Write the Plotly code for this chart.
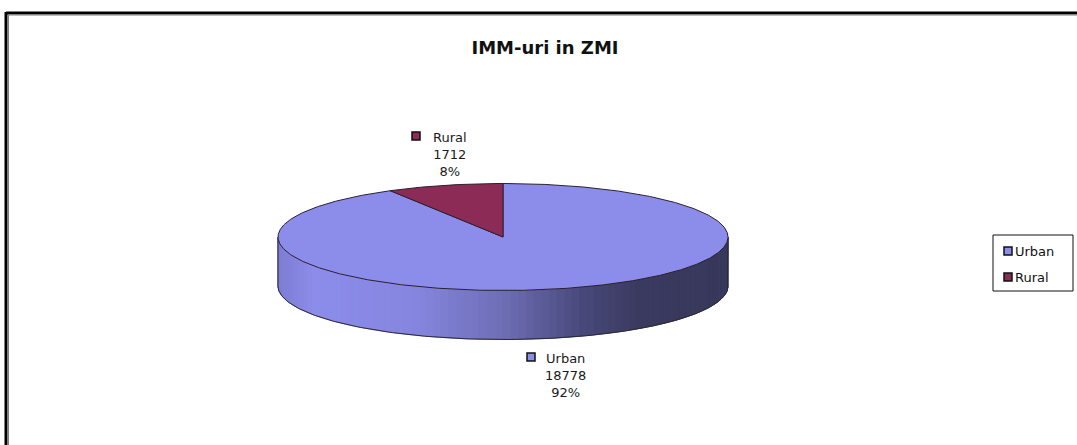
import numpy as np
import plotly.graph_objects as go

# ---- data ----
categories = ["Urban", "Rural"]
values = [18778, 1712]
title_text = "IMM-uri in ZMI"

# ---- style ----
W, H = 1077, 445
top_colors = ["#8c8ceb", "#8c2c56"]
CX, CY, RX, RY, DEPTH = 503, 237, 225, 53.5, 49
FONT = "DejaVu Sans, Arial, sans-serif"
label_pos = {"Urban": (565, 375), "Rural": (450, 154)}
LEG_BOX = (993, 235, 1073, 291)
LEG_ROWS = [251, 277]

total = float(sum(values))
fracs = [v / total for v in values]

fig = go.Figure()


def ell(phi_deg, dy=0.0):
    p = np.radians(phi_deg)
    return CX + RX * np.sin(p), CY - RY * np.cos(p) + dy


# ---- side wall (front half), gradient strips ----
stops = [(0.0, (124, 124, 210)), (0.08, (140, 140, 234)), (0.3, (134, 134, 224)),
         (0.5, (110, 110, 182)), (0.68, (72, 72, 122)), (0.8, (58, 58, 96)),
         (1.0, (56, 56, 92))]


def grad(t):
    for (t0, c0), (t1, c1) in zip(stops[:-1], stops[1:]):
        if t <= t1:
            f = (t - t0) / (t1 - t0)
            return "rgb(%d,%d,%d)" % tuple(int(round(a + (b - a) * f)) for a, b in zip(c0, c1))
    return "rgb(%d,%d,%d)" % stops[-1][1]


N = 90
phis = np.linspace(270, 90, N + 1)  # left -> bottom -> right
for i in range(N):
    ps = np.linspace(phis[i], phis[i + 1], 4)
    xt, yt = ell(ps)
    xb, yb = ell(ps[::-1], DEPTH)
    xs = np.concatenate([xt, xb, xt[:1]])
    ys = np.concatenate([yt, yb, yt[:1]])
    t = ((xt.mean()) - (CX - RX)) / (2 * RX)
    c = grad(min(max(t, 0), 1))
    fig.add_trace(go.Scatter(x=xs, y=ys, mode="lines", fill="toself", fillcolor=c,
                             line=dict(color=c, width=1), hoverinfo="skip", showlegend=False))

# side outline
ps = np.linspace(90, 270, 200)
xb, yb = ell(ps, DEPTH)
lx, ly = ell(np.array([270.0]))
rx_, ry_ = ell(np.array([90.0]))
fig.add_trace(go.Scatter(
    x=np.concatenate([[rx_[0]], xb, [lx[0]]]),
    y=np.concatenate([[ry_[0]], yb, [ly[0]]]),
    mode="lines", line=dict(color="#2a2a3a", width=1), hoverinfo="skip", showlegend=False))

# ---- top slices ----
start = 0.0
for cat, f, col in zip(categories, fracs, top_colors):
    a0, a1 = start * 360, (start + f) * 360
    ps = np.linspace(a0, a1, max(int((a1 - a0) * 2), 8))
    xa, ya = ell(ps)
    xs = np.concatenate([[CX], xa, [CX]])
    ys = np.concatenate([[CY], ya, [CY]])
    fig.add_trace(go.Scatter(x=xs, y=ys, mode="lines", fill="toself", fillcolor=col,
                             line=dict(color="#2a2030", width=1), hoverinfo="skip",
                             showlegend=False, name=cat))
    start += f

# ---- data labels ----
for cat, v, f, col in zip(categories, values, fracs, top_colors):
    px, py = label_pos[cat]
    fig.add_annotation(x=px, y=py, xref="x", yref="y", showarrow=False,
                       text=f"{cat}<br>{v}<br>{round(f * 100):.0f}%",
                       align="center", xanchor="center", yanchor="middle",
                       font=dict(family=FONT, size=13, color="#1a1a1a"))
    fig.add_trace(go.Scatter(x=[px - 34], y=[py - 18], mode="markers",
                             marker=dict(symbol="square", size=8, color=col,
                                         line=dict(color="#111", width=1.5)),
                             hoverinfo="skip", showlegend=False))

# ---- legend (drawn manually) ----
fig.add_shape(type="rect", x0=LEG_BOX[0], y0=LEG_BOX[1], x1=LEG_BOX[2], y1=LEG_BOX[3],
              xref="x", yref="y", line=dict(color="#111", width=1), fillcolor="white",
              layer="below")
for cat, col, ry in zip(categories, top_colors, LEG_ROWS):
    fig.add_trace(go.Scatter(x=[LEG_BOX[0] + 15], y=[ry], mode="markers",
                             marker=dict(symbol="square", size=8, color=col,
                                         line=dict(color="#111", width=1.5)),
                             hoverinfo="skip", showlegend=False))
    fig.add_annotation(x=LEG_BOX[0] + 20, y=ry, xref="x", yref="y", showarrow=False,
                       text=cat, xanchor="left", yanchor="middle",
                       font=dict(family=FONT, size=13, color="#111"))

# ---- frame lines ----
fig.add_shape(type="line", x0=6, x1=W + 5, y0=13, y1=13, xref="x", yref="y",
              line=dict(color="black", width=3))
fig.add_shape(type="line", x0=6, x1=6, y0=12, y1=H + 5, xref="x", yref="y",
              line=dict(color="black", width=3))
fig.add_shape(type="line", x0=8.5, x1=W + 5, y0=15, y1=15, xref="x", yref="y",
              line=dict(color="#808080", width=1))
fig.add_shape(type="line", x0=8.5, x1=8.5, y0=15, y1=H + 5, xref="x", yref="y",
              line=dict(color="#808080", width=1))

fig.update_layout(
    width=W, height=H,
    margin=dict(l=0, r=0, t=0, b=0),
    paper_bgcolor="white", plot_bgcolor="white",
    title=dict(text=f"<b>{title_text}</b>", x=545 / W, xanchor="center",
               y=1 - 48 / H, yanchor="middle",
               font=dict(family=FONT, size=18, color="#111")),
    xaxis=dict(range=[0, W], visible=False, fixedrange=True),
    yaxis=dict(range=[H, 0], visible=False, fixedrange=True),
    showlegend=False,
    hovermode=False,
)

fig.write_html("out.html",
               config={"displayModeBar": False, "staticPlot": True},
               post_script="document.body.style.margin='0';"
                           "document.body.style.overflow='hidden';")
